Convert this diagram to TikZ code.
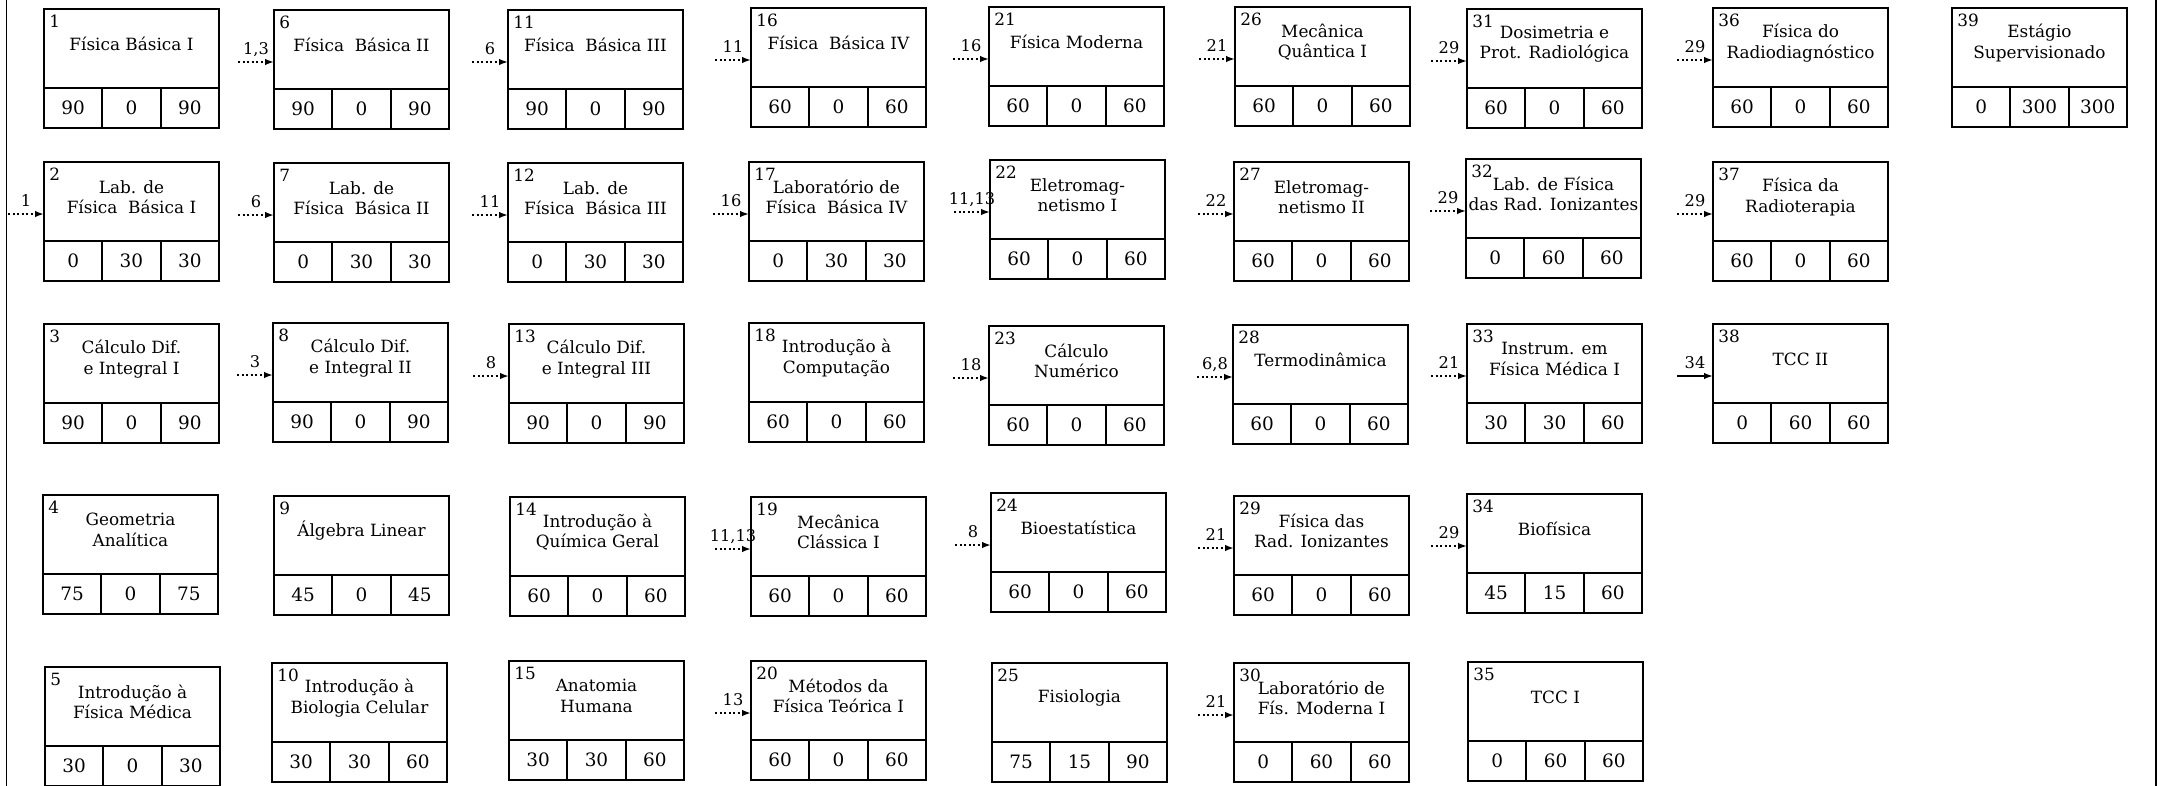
\documentclass[tikz,border=0pt]{standalone}
\usepackage{fontspec}
\setmainfont{DejaVu Serif}
\usetikzlibrary{arrows.meta,positioning,calc}
\tikzset{
  topcell/.style={draw=black, line width=1.1pt, outer sep=0pt, inner sep=0pt, minimum width=3.5cm, minimum height=1.58cm},
  cell/.style={draw=black, line width=1.1pt, outer sep=0pt, inner sep=0pt, minimum width=1.1667cm, minimum height=0.8cm, font=\fontsize{10.5}{12}\selectfont},
  frame/.style={draw=black, line width=1.5pt},
  numtext/.style={inner sep=0pt, font=\fontsize{9.6}{11}\selectfont},
  titletext/.style={inner sep=0pt, align=center, font=\fontsize{9.6}{11.6}\selectfont},
  prereqline/.style={-{Latex[length=5pt,width=3.6pt]}, line width=1.2pt, dash pattern=on 1.2pt off 1.4pt},
  coreqline/.style={-{Latex[length=5pt,width=3.6pt]}, line width=1.2pt},
  arrowlabel/.style={anchor=base, yshift=4pt, inner sep=0pt, font=\fontsize{9.2}{10}\selectfont},
  sideline/.style={line width=1.1pt}
}
\newcommand{\course}[7]{%
  \node[topcell, anchor=north west] (#1) at (#2) {};
  \node[cell, anchor=north west] (#1a) at (#1.south west) {#5};
  \node[cell, right=0pt of #1a] (#1b) {#6};
  \node[cell, right=0pt of #1b] (#1c) {#7};
  \draw[frame] (#1.north west) rectangle (#1c.south east);
  \node[numtext, anchor=north west] (#1n) at ($(#1.north west)+(5,6)$) {#3};
  \node[titletext] (#1t) at ($(#1.north)+(0,35)$) {#4};
}
\newcommand{\prereq}[3][prereqline]{%
  \coordinate (#2in) at ($(#2.north west)+(0,52)$);
  \coordinate (#2from) at ($(#2in)+(-36,0)$);
  \draw[#1] (#2from) -- node[arrowlabel] {#3} (#2in);
}

\begin{document}
\begin{tikzpicture}[x=0.02cm, y=-0.02cm]
  \useasboundingbox (0,0) rectangle (2163,785);
  \draw[sideline] (6.5,0) -- (6.5,790);
  \draw[sideline] (2156,0) -- (2156,790);

  \course{c1}{44,9}{1}{Física Básica I}{90}{0}{90}
  \course{c2}{44,162}{2}{Lab. de\\Física\ \ Básica I}{0}{30}{30}
  \course{c3}{44,324}{3}{Cálculo Dif.\\e Integral I}{90}{0}{90}
  \course{c4}{43,495}{4}{Geometria\\Analítica}{75}{0}{75}
  \course{c5}{45,667}{5}{Introdução à\\Física Médica}{30}{0}{30}

  \course{c6}{274,10}{6}{Física\ \ Básica II}{90}{0}{90}
  \course{c7}{274,163}{7}{Lab. de\\Física\ \ Básica II}{0}{30}{30}
  \course{c8}{273,323}{8}{Cálculo Dif.\\e Integral II}{90}{0}{90}
  \course{c9}{274,496}{9}{Álgebra Linear}{45}{0}{45}
  \course{c10}{272,663}{10}{Introdução à\\Biologia Celular}{30}{30}{60}

  \course{c11}{508,10}{11}{Física\ \ Básica III}{90}{0}{90}
  \course{c12}{508,163}{12}{Lab. de\\Física\ \ Básica III}{0}{30}{30}
  \course{c13}{509,324}{13}{Cálculo Dif.\\e Integral III}{90}{0}{90}
  \course{c14}{510,497}{14}{Introdução à\\Química Geral}{60}{0}{60}
  \course{c15}{509,661}{15}{Anatomia\\Humana}{30}{30}{60}

  \course{c16}{751,8}{16}{Física\ \ Básica IV}{60}{0}{60}
  \course{c17}{749,162}{17}{Laboratório de\\Física\ \ Básica IV}{0}{30}{30}
  \course{c18}{749,323}{18}{Introdução à\\Computação}{60}{0}{60}
  \course{c19}{751,497}{19}{Mecânica\\Clássica I}{60}{0}{60}
  \course{c20}{751,661}{20}{Métodos da\\Física Teórica I}{60}{0}{60}

  \course{c21}{989,7}{21}{Física Moderna}{60}{0}{60}
  \course{c22}{990,160}{22}{Eletromag-\\netismo I}{60}{0}{60}
  \course{c23}{989,326}{23}{Cálculo\\Numérico}{60}{0}{60}
  \course{c24}{991,493}{24}{Bioestatística}{60}{0}{60}
  \course{c25}{992,663}{25}{Fisiologia}{75}{15}{90}

  \course{c26}{1235,7}{26}{Mecânica\\Quântica I}{60}{0}{60}
  \course{c27}{1234,162}{27}{Eletromag-\\netismo II}{60}{0}{60}
  \course{c28}{1233,325}{28}{Termodinâmica}{60}{0}{60}
  \course{c29}{1234,496}{29}{Física das\\Rad. Ionizantes}{60}{0}{60}
  \course{c30}{1234,663}{30}{Laboratório de\\Fís. Moderna I}{0}{60}{60}

  \course{c31}{1467,9}{31}{Dosimetria e\\Prot. Radiológica}{60}{0}{60}
  \course{c32}{1466,159}{32}{Lab. de Física\\das Rad. Ionizantes}{0}{60}{60}
  \course{c33}{1467,324}{33}{Instrum. em\\Física Médica I}{30}{30}{60}
  \course{c34}{1467,494}{34}{Biofísica}{45}{15}{60}
  \course{c35}{1468,662}{35}{TCC I}{0}{60}{60}

  \course{c36}{1713,8}{36}{Física do\\Radiodiagnóstico}{60}{0}{60}
  \course{c37}{1713,162}{37}{Física da\\Radioterapia}{60}{0}{60}
  \course{c38}{1713,324}{38}{TCC II}{0}{60}{60}

  \course{c39}{1952,8}{39}{Estágio\\Supervisionado}{0}{300}{300}

  \prereq{c6}{1,3}
  \prereq{c11}{6}
  \prereq{c16}{11}
  \prereq{c21}{16}
  \prereq{c26}{21}
  \prereq{c31}{29}
  \prereq{c36}{29}
  \prereq{c2}{1}
  \prereq{c7}{6}
  \prereq{c12}{11}
  \prereq{c17}{16}
  \prereq{c22}{11,13}
  \prereq{c27}{22}
  \prereq{c32}{29}
  \prereq{c37}{29}
  \prereq{c8}{3}
  \prereq{c13}{8}
  \prereq{c23}{18}
  \prereq{c28}{6,8}
  \prereq{c33}{21}
  \prereq[coreqline]{c38}{34}
  \prereq{c19}{11,13}
  \prereq{c24}{8}
  \prereq{c29}{21}
  \prereq{c34}{29}
  \prereq{c20}{13}
  \prereq{c30}{21}
\end{tikzpicture}
\end{document}
